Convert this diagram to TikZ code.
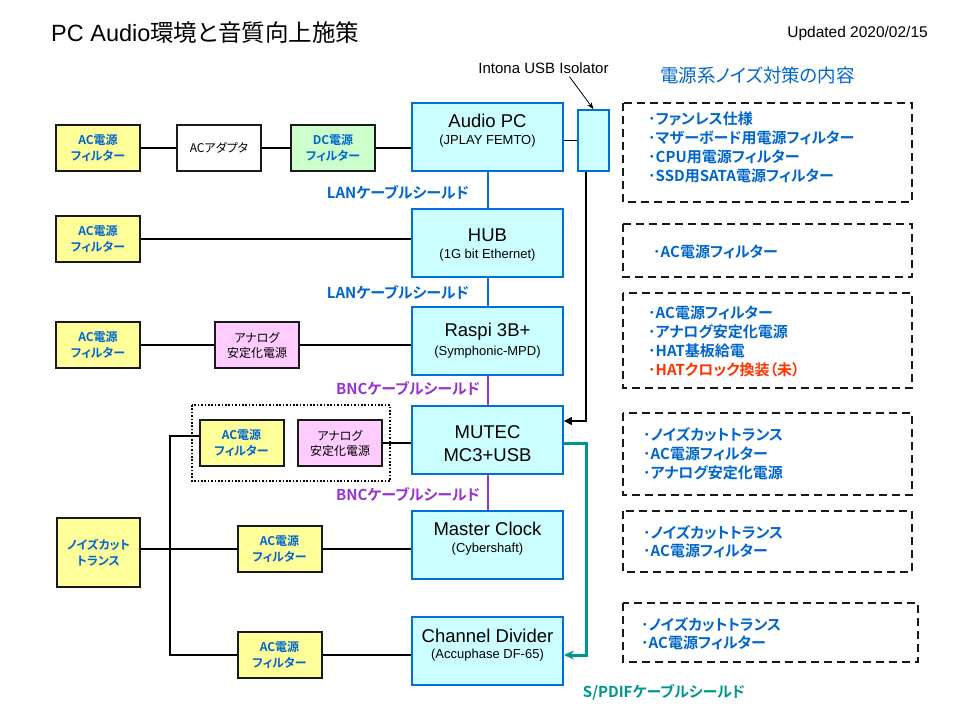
\documentclass[tikz,border=0pt]{standalone}
\usepackage{fontspec}
\setmainfont{Liberation Sans}
\newfontfamily\jp[RawFeature=+palt,BoldFont={Noto Sans CJK JP Bold}]{Noto Sans CJK JP}
\usetikzlibrary{arrows.meta}
\definecolor{tblue}{HTML}{0066CC}
\definecolor{boxblue}{HTML}{0070D8}
\definecolor{boxfill}{HTML}{CCFFFF}
\definecolor{yfill}{HTML}{FFFF99}
\definecolor{gfill}{HTML}{CCFFCC}
\definecolor{pfill}{HTML}{FFCCFF}
\definecolor{tpurple}{HTML}{9933CC}
\definecolor{tteal}{HTML}{00968C}
\definecolor{tred}{HTML}{FF3300}
\newcommand\fsz[2]{\fontsize{#1pt}{#2pt}\selectfont}
\tikzset{
  dev/.style={draw=boxblue, fill=boxfill, line width=1.8pt, minimum width=151pt, minimum height=68pt, inner sep=0pt},
  smallbox/.style={draw=black!90, line width=2pt, minimum width=84pt, minimum height=46pt, inner sep=0pt, align=center},
  ybox/.style={smallbox, fill=yfill, text=tblue, font=\jp\bfseries\fsz{12}{16}},
  pbox/.style={smallbox, fill=pfill, font=\jp\fsz{12}{15}},
  wbox/.style={smallbox, fill=white, font=\jp\fsz{12}{15}},
  gbox/.style={smallbox, fill=gfill, text=tblue, font=\jp\bfseries\fsz{12}{16}},
  mainlbl/.style={font=\fsz{18.5}{22}, inner sep=0pt},
  sublbl/.style={font=\fsz{13}{15}, inner sep=0pt},
  conn/.style={line width=1.3pt, draw=black},
  lan/.style={line width=2pt, draw=boxblue},
  bnc/.style={line width=2pt, draw=tpurple},
  spdif/.style={line width=3pt, draw=tteal},
  cable/.style={font=\jp\bfseries\fsz{15}{18}, inner sep=0pt},
  notebox/.style={draw=black!90, line width=1.8pt, dash pattern=on 8pt off 5pt},
  notetext/.style={font=\jp\bfseries\fsz{15}{19}, text=tblue, inner sep=0pt, anchor=west, align=left},
}
\begin{document}
\begin{tikzpicture}[x=1pt,y=-1pt]
\fill[white] (0,0) rectangle (960,720);
\useasboundingbox (0,0) rectangle (960,720);

% title
\node[anchor=west, inner sep=0pt, font=\fsz{23.5}{27}] (title) at (51,33) {PC Audio{\jp 環境と音質向上施策}};
\node[anchor=east, inner sep=0pt, font=\fsz{15.5}{18}] (upd) at (928,33) {Updated 2020/02/15};

% left boxes
\node[ybox] (f1) at (98,148) {AC電源\\フィルター};
\node[wbox] (ad) at (219,148) {ACアダプタ};
\node[gbox] (dc) at (333,148) {DC電源\\フィルター};
\node[ybox] (f2) at (98,239) {AC電源\\フィルター};
\node[ybox] (f3) at (98,345) {AC電源\\フィルター};
\node[pbox] (an1) at (257,345) {アナログ\\安定化電源};
\draw[line width=2pt, dash pattern=on 1.6pt off 1.8pt] (192,405) rectangle (390,481);
\node[ybox] (f4) at (241.5,443) {AC電源\\フィルター};
\node[pbox] (an2) at (340,443) {アナログ\\安定化電源};
\node[ybox, minimum width=83pt, minimum height=69pt] (nt) at (98.5,552.5) {ノイズカット\\トランス};
\node[ybox] (f5) at (279.5,549) {AC電源\\フィルター};
\node[ybox] (f6) at (279.5,655) {AC電源\\フィルター};

% devices
\node[dev] (pc) at (487.5,137) {};
\node[mainlbl] (pcT) at (487.5,121) {Audio PC};
\node[sublbl] (pcS) at (487.5,141) {(JPLAY FEMTO)};
\node[dev] (hub) at (487.5,243) {};
\node[mainlbl] (hubT) at (487.5,235) {HUB};
\node[sublbl] (hubS) at (487.5,255) {(1G bit Ethernet)};
\node[dev] (rp) at (487.5,341) {};
\node[mainlbl] (rpT) at (487.5,332) {Raspi 3B+};
\node[sublbl] (rpS) at (487.5,352) {(Symphonic-MPD)};
\node[dev] (mu) at (487.5,440) {};
\node[mainlbl] (muT) at (487.5,432) {MUTEC};
\node[mainlbl] (muS) at (487.5,455) {MC3+USB};
\node[dev] (mc) at (487.5,545) {};
\node[mainlbl] (mcT) at (487.5,529) {Master Clock};
\node[sublbl] (mcS) at (487.5,549) {(Cybershaft)};
\node[dev] (cd) at (487.5,651) {};
\node[mainlbl] (cdT) at (487.5,636) {Channel Divider};
\node[sublbl] (cdS) at (487.5,655) {(Accuphase DF-65)};

% isolator
\node[draw=boxblue, fill=boxfill, line width=1.5pt, minimum width=31pt, minimum height=61pt, inner sep=0pt] (iso) at (593.5,140.5) {};
\node[inner sep=0pt, font=\fsz{15}{18}] (intona) at (543.5,68) {Intona USB Isolator};
\draw[line width=0.8pt, -{Stealth[length=7pt,width=5pt]}] ([xshift=26pt,yshift=-3pt]intona.south) -- (iso.north);

% black connectors
\draw[conn] (f1) -- (ad);
\draw[conn] (ad) -- (dc);
\draw[conn] (dc.east) -- (dc.east -| pc.west);
\draw[conn] (f2.east) -- (f2.east -| hub.west);
\draw[conn] (f3) -- (an1);
\draw[conn] (an1.east) -- (an1.east -| rp.west);
\draw[conn] (an2.east) -- (an2.east -| mu.west);
\coordinate (b1) at (170,436);
\coordinate (b2) at (170,655);
\draw[conn] (f4.west |- b1) -- (b1) -- (b2) -- (f6.west);
\draw[conn] (nt.east |- f5.west) -- (f5.west);
\draw[conn] (f5.east) -- (f5.east -| mc.west);
\draw[conn] (f6.east) -- (f6.east -| cd.west);
\draw[conn] (pc.east |- iso.west) -- (iso.west);
\coordinate (isoX) at (586,0);
\coordinate (ay) at (0,421);
\draw[conn, -{Triangle[length=8pt,width=8pt]}] (iso.south -| isoX) -- (isoX |- ay) -- (mu.east |- ay);

% cables
\draw[lan] (pc.south) -- (hub.north);
\draw[lan] (hub.south) -- (rp.north);
\draw[bnc] (rp.south) -- (mu.north);
\draw[bnc] (mu.south) -- (mc.north);
\coordinate (t1) at (586,443);
\coordinate (t2) at (586,655);
\draw[spdif, -{Stealth[length=10pt,width=9pt]}] (mu.east |- t1) -- (t1) -- (t2) -- (cd.east |- t2);

\node[cable, text=tblue] (lan1) at (398,192) {LANケーブルシールド};
\node[cable, text=tblue] (lan2) at (398,292) {LANケーブルシールド};
\node[cable, text=tpurple] (bnc1) at (408,388) {BNCケーブルシールド};
\node[cable, text=tpurple] (bnc2) at (408,494) {BNCケーブルシールド};
\node[cable, text=tteal] (spd) at (664,692) {S/PDIFケーブルシールド};

% right panel
\node[inner sep=0pt, font=\jp\fsz{18.5}{21}, text=tblue] (head) at (757.5,75) {電源系ノイズ対策の内容};
\draw[notebox] (623,103) rectangle (912,202);
\draw[notebox] (623,224) rectangle (912,277);
\draw[notebox] (623,293) rectangle (912,388);
\draw[notebox] (623,413) rectangle (912,495);
\draw[notebox] (623,511) rectangle (912,572);
\draw[notebox] (623,603) rectangle (918,662);
\node[notetext] (n1) at (648,147) {･ファンレス仕様\\･マザーボード用電源フィルター\\･CPU用電源フィルター\\･SSD用SATA電源フィルター};
\node[notetext] (n2) at (653,252) {･AC電源フィルター};
\node[notetext] (n3) at (648,341.5) {･AC電源フィルター\\･アナログ安定化電源\\･HAT基板給電\\\textcolor{tred}{･HATクロック換装（未）}};
\node[notetext] (n4) at (643,454) {･ノイズカットトランス\\･AC電源フィルター\\･アナログ安定化電源};
\node[notetext, font=\jp\bfseries\fsz{15}{18}] (n5) at (643,542) {･ノイズカットトランス\\･AC電源フィルター};
\node[notetext, font=\jp\bfseries\fsz{15}{17.5}] (n6) at (641,633.5) {･ノイズカットトランス\\･AC電源フィルター};
\end{tikzpicture}
\end{document}
